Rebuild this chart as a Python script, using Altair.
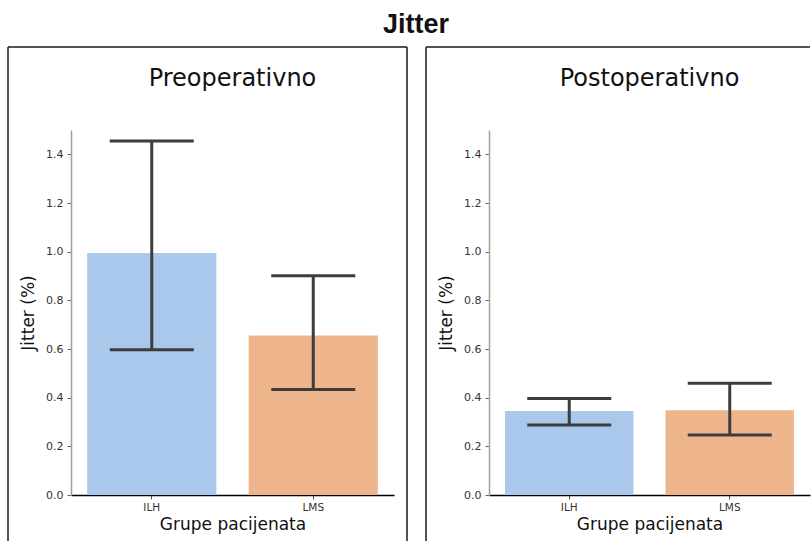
import altair as alt
import pandas as pd

# Group labels and summary values (mean with error-bar limits) per phase
groups = ["ILH", "LMS"]
pre_mean = [0.995, 0.655]
pre_lo = [0.597, 0.434]
pre_hi = [1.455, 0.901]
post_mean = [0.345, 0.348]
post_lo = [0.288, 0.247]
post_hi = [0.397, 0.459]

bar_colors = ["#a9c8eb", "#eeb58d"]
ink = "#3d3d3d"

PLOT_W_LEFT = 323
PLOT_W_RIGHT = 321
PLOT_H = 365


def panel(title, mean, lo, hi, width, is_left):
    df = pd.DataFrame({"grupa": groups, "mean": mean, "lo": lo, "hi": hi})
    base = alt.Chart(df)

    x = alt.X(
        "grupa:N",
        sort=groups,
        scale=alt.Scale(paddingInner=0.2, paddingOuter=0.1),
        axis=alt.Axis(
            title="Grupe pacijenata",
            labelAngle=0,
            labelFontSize=10.5,
            labelColor="#333333",
            labelPadding=3,
            tickSize=4,
            tickColor="#555555",
            domainColor="#000000",
            domainWidth=1.3,
            titleFontSize=17,
            titleFontWeight="normal",
            titleColor="#111111",
            titlePadding=4,
        ),
    )
    y_scale = alt.Scale(domain=[0, 1.5], nice=False)

    bars = base.mark_bar().encode(
        x=x,
        y=alt.Y(
            "mean:Q",
            scale=y_scale,
            axis=alt.Axis(
                title="Jitter (%)",
                values=[0, 0.2, 0.4, 0.6, 0.8, 1.0, 1.2, 1.4],
                format=".1f",
                labelFontSize=11,
                labelColor="#333333",
                labelPadding=4,
                tickSize=4,
                tickColor="#666666",
                domainColor="#a0a0a0",
                domainWidth=1.5,
                grid=False,
                titleFontSize=17,
                titleFontWeight="normal",
                titleColor="#111111",
                titlePadding=8,
            ),
        ),
        color=alt.Color(
            "grupa:N",
            scale=alt.Scale(domain=groups, range=bar_colors),
            legend=None,
        ),
    )

    whisker = base.mark_rule(color=ink, strokeWidth=3).encode(
        x="grupa:N", y=alt.Y("lo:Q", scale=y_scale), y2="hi:Q"
    )
    cap_lo = base.mark_tick(color=ink, size=84, thickness=3, opacity=1).encode(
        x="grupa:N", y=alt.Y("lo:Q", scale=y_scale)
    )
    cap_hi = base.mark_tick(color=ink, size=84, thickness=3, opacity=1).encode(
        x="grupa:N", y=alt.Y("hi:Q", scale=y_scale)
    )

    one = alt.Chart(pd.DataFrame({"k": [0]}))
    sub_title = one.mark_text(
        text=title, font="DejaVu Sans", fontSize=24, color="#111111",
        align="center", baseline="alphabetic",
    ).encode(x=alt.value(width / 2), y=alt.value(-44))

    # Subplot frame lines (only the edges that fall inside the figure)
    frame_right = 336 if is_left else width
    frame_top = one.mark_rule(color="#1a1a1a", strokeWidth=1.5).encode(
        x=alt.value(-63), x2=alt.value(frame_right), y=alt.value(-83)
    )
    frame_l = one.mark_rule(color="#1a1a1a", strokeWidth=1.5).encode(
        x=alt.value(-63), y=alt.value(-83), y2=alt.value(411)
    )
    layers = [bars, whisker, cap_lo, cap_hi, sub_title, frame_top, frame_l]
    if is_left:
        frame_r = one.mark_rule(color="#1a1a1a", strokeWidth=1.5).encode(
            x=alt.value(336), y=alt.value(-83), y2=alt.value(411)
        )
        main_title = one.mark_text(
            text="Jitter", font="Liberation Sans", fontSize=27,
            fontWeight="bold", color="#111111", align="center",
            baseline="alphabetic",
        ).encode(x=alt.value(345), y=alt.value(-97))
        anchor = one.mark_rule(strokeOpacity=0, strokeWidth=0).encode(
            x=alt.value(-71), x2=alt.value(-70), y=alt.value(-130)
        )
        layers += [frame_r, main_title, anchor]

    return alt.layer(*layers).properties(width=width, height=PLOT_H)


left = panel("Preoperativno", pre_mean, pre_lo, pre_hi, PLOT_W_LEFT, True)
right = panel("Postoperativno", post_mean, post_lo, post_hi, PLOT_W_RIGHT, False)

chart = (
    alt.hconcat(left, right, spacing=95, bounds="flush")
    .resolve_scale(color="independent")
    .properties(padding=0, background="white")
    .configure_view(stroke=None)
    .configure_axis(labelFont="DejaVu Sans", titleFont="DejaVu Sans")
)

chart.save("out.html", embed_options={"renderer": "svg", "actions": False})
